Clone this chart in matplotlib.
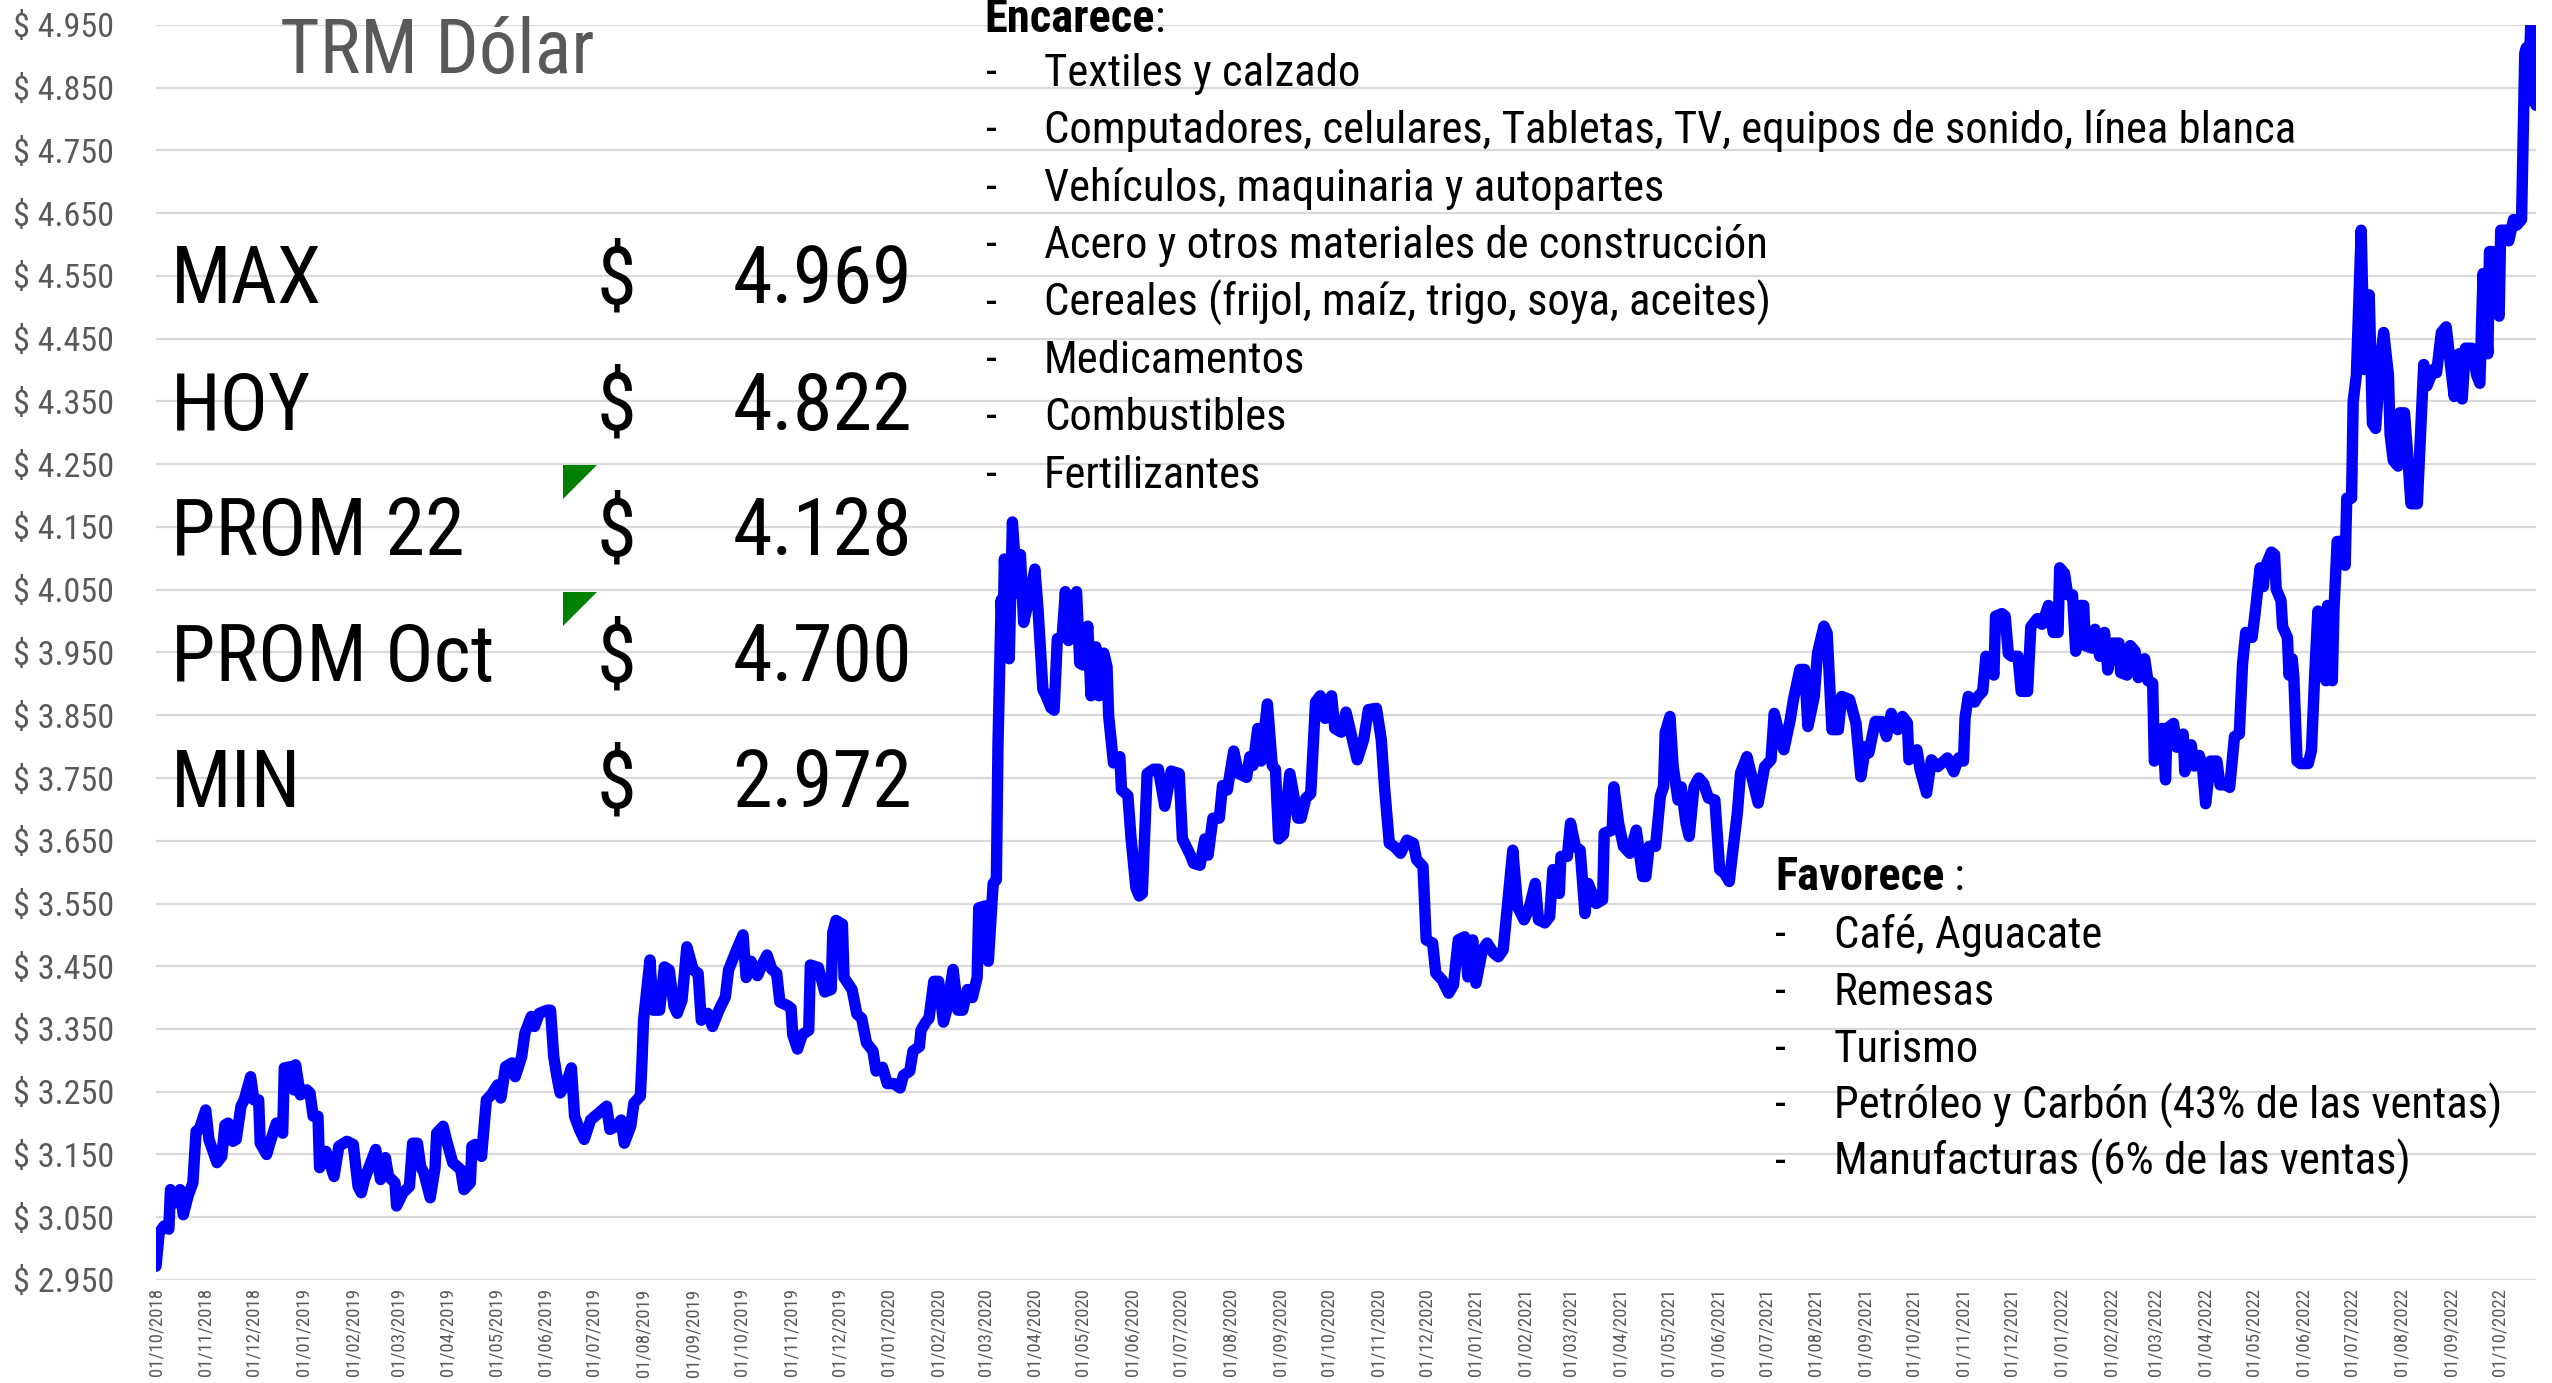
import matplotlib
matplotlib.use("Agg")
import matplotlib.pyplot as plt
from matplotlib import font_manager
from matplotlib.font_manager import FontProperties
from matplotlib.patches import Polygon
import pandas as pd

# ---------------- data ----------------
start_date = "2018-10-01"
day_offset = [0, 2, 5, 8, 9, 12, 15, 17, 20, 23, 25, 27, 31, 33, 38, 41, 43, 45, 48, 50, 53, 55, 59, 61, 64, 65, 69, 71, 75, 79,
              80, 84, 86, 87, 90, 94, 96, 98, 101, 102, 106, 111, 114, 119, 123, 126, 128, 130, 133, 137, 140, 143, 145, 149, 150, 154, 158, 160, 163, 165,
              167, 171, 174, 175, 179, 181, 185, 190, 192, 196, 197, 199, 203, 206, 209, 213, 215, 218, 222, 224, 228, 230, 234, 236, 239, 244, 246, 248, 250, 252,
              256, 259, 261, 264, 267, 271, 276, 281, 283, 287, 290, 292, 296, 298, 302, 303, 304, 308, 310, 314, 317, 320, 323, 325, 328, 331, 335, 338, 340, 344,
              347, 351, 355, 357, 362, 366, 368, 371, 375, 379, 381, 384, 387, 389, 394, 396, 397, 400, 403, 407, 408, 413, 417, 421, 422, 424, 428, 429, 434, 437,
              440, 443, 447, 449, 453, 456, 460, 464, 466, 470, 472, 476, 477, 480, 482, 485, 488, 491, 493, 497, 500, 503, 506, 509, 512, 513, 517, 519, 522, 524,
              525, 527, 528, 529, 532, 534, 537, 539, 541, 544, 548, 550, 553, 555, 558, 560, 562, 565, 567, 569, 571, 574, 576, 578, 581, 583, 586, 588, 591, 593,
              594, 597, 601, 602, 606, 608, 611, 613, 615, 618, 622, 625, 629, 633, 638, 640, 645, 647, 651, 654, 656, 659, 663, 665, 668, 672, 675, 680, 682, 684,
              687, 689, 693, 696, 698, 700, 703, 707, 712, 714, 717, 720, 723, 726, 729, 733, 735, 739, 742, 749, 753, 756, 761, 764, 766, 769, 772, 776, 780, 784,
              786, 790, 792, 796, 798, 802, 806, 809, 812, 816, 818, 821, 823, 827, 830, 834, 837, 840, 842, 846, 849, 853, 856, 860, 862, 866, 869, 871, 875, 876,
              880, 882, 885, 888, 891, 893, 898, 902, 903, 908, 909, 912, 915, 919, 923, 927, 929, 931, 935, 938, 940, 941, 944, 946, 949, 951, 954, 956, 959, 962,
              965, 968, 972, 975, 978, 981, 983, 986, 988, 992, 996, 999, 1003, 1007, 1009, 1012, 1015, 1019, 1021, 1025, 1028, 1030, 1034, 1036, 1040, 1042, 1045, 1049, 1051, 1056,
              1060, 1063, 1066, 1068, 1072, 1076, 1079, 1082, 1086, 1089, 1092, 1093, 1098, 1100, 1104, 1107, 1111, 1117, 1121, 1124, 1127, 1128, 1130, 1134, 1136, 1139, 1141, 1144, 1146, 1147,
              1151, 1153, 1155, 1157, 1161, 1163, 1167, 1169, 1173, 1176, 1180, 1183, 1186, 1187, 1190, 1192, 1195, 1197, 1200, 1202, 1203, 1207, 1209, 1212, 1215, 1217, 1220, 1224, 1225, 1229,
              1231, 1234, 1236, 1240, 1242, 1245, 1246, 1248, 1251, 1253, 1254, 1258, 1260, 1264, 1265, 1269, 1271, 1274, 1276, 1278, 1281, 1285, 1287, 1291, 1293, 1296, 1299, 1301, 1303, 1307,
              1309, 1312, 1314, 1315, 1319, 1321, 1322, 1325, 1326, 1329, 1330, 1332, 1333, 1335, 1337, 1342, 1344, 1346, 1348, 1350, 1353, 1354, 1357, 1358, 1360, 1364, 1365, 1366, 1369, 1370,
              1372, 1375, 1377, 1380, 1382, 1384, 1387, 1389, 1392, 1393, 1395, 1398, 1399, 1402, 1404, 1406, 1410, 1414, 1416, 1420, 1422, 1425, 1428, 1431, 1433, 1436, 1438, 1440, 1444, 1447,
              1449, 1451, 1454, 1455, 1457, 1459, 1461, 1462, 1465, 1467, 1470, 1472, 1475, 1477, 1478, 1479, 1481, 1483, 1484]
trm = [2972, 3025, 3036, 3031, 3094, 3073, 3094, 3054, 3084, 3105, 3187, 3190, 3221, 3174, 3137, 3147, 3197, 3200, 3171, 3174, 3227, 3237, 3274, 3237, 3237, 3168, 3150, 3168, 3200, 3184,
       3288, 3290, 3253, 3293, 3245, 3253, 3248, 3211, 3211, 3129, 3155, 3115, 3163, 3171, 3166, 3099, 3089, 3110, 3131, 3158, 3110, 3145, 3115, 3105, 3068, 3089, 3099, 3168, 3168, 3131,
       3121, 3081, 3129, 3184, 3195, 3174, 3137, 3126, 3094, 3105, 3163, 3166, 3147, 3237, 3245, 3261, 3240, 3290, 3296, 3274, 3306, 3343, 3370, 3354, 3375, 3380, 3380, 3306, 3274, 3248,
       3264, 3288, 3211, 3190, 3174, 3205, 3216, 3227, 3190, 3195, 3205, 3168, 3195, 3232, 3243, 3296, 3364, 3460, 3380, 3380, 3449, 3444, 3386, 3375, 3396, 3481, 3444, 3439, 3364, 3375,
       3354, 3380, 3401, 3444, 3476, 3500, 3432, 3458, 3435, 3458, 3468, 3445, 3439, 3393, 3387, 3383, 3341, 3318, 3341, 3348, 3452, 3448, 3409, 3413, 3504, 3523, 3517, 3432, 3413, 3374,
       3367, 3328, 3315, 3283, 3289, 3263, 3263, 3256, 3276, 3283, 3315, 3322, 3348, 3361, 3367, 3426, 3426, 3361, 3380, 3445, 3380, 3380, 3413, 3400, 3432, 3543, 3546, 3458, 3582, 3588,
       3803, 4034, 3953, 4099, 3940, 4158, 4044, 4106, 3998, 4031, 4083, 4018, 3891, 3881, 3862, 3858, 3972, 3975, 4047, 3969, 4018, 4047, 3933, 3930, 3992, 3881, 3959, 3881, 3949, 3927,
       3849, 3774, 3784, 3731, 3722, 3653, 3575, 3562, 3566, 3757, 3764, 3764, 3705, 3761, 3757, 3653, 3627, 3614, 3611, 3653, 3627, 3686, 3686, 3738, 3731, 3793, 3757, 3751, 3784, 3770,
       3829, 3777, 3868, 3770, 3764, 3653, 3660, 3757, 3686, 3686, 3718, 3725, 3871, 3881, 3845, 3881, 3829, 3823, 3855, 3779, 3811, 3859, 3861, 3811, 3736, 3646, 3641, 3630, 3651, 3646,
       3620, 3609, 3492, 3487, 3439, 3428, 3407, 3420, 3492, 3497, 3433, 3492, 3423, 3476, 3487, 3471, 3465, 3476, 3529, 3635, 3545, 3524, 3540, 3582, 3524, 3519, 3529, 3604, 3566, 3625,
       3625, 3678, 3641, 3635, 3534, 3582, 3550, 3556, 3662, 3667, 3736, 3678, 3641, 3630, 3667, 3593, 3593, 3641, 3641, 3721, 3736, 3822, 3848, 3768, 3715, 3736, 3678, 3657, 3736, 3750,
       3741, 3718, 3715, 3604, 3598, 3585, 3630, 3694, 3758, 3784, 3742, 3710, 3768, 3779, 3853, 3822, 3795, 3843, 3875, 3923, 3923, 3832, 3880, 3949, 3992, 3981, 3827, 3827, 3880, 3875,
       3837, 3752, 3800, 3790, 3840, 3840, 3816, 3853, 3827, 3848, 3838, 3779, 3795, 3763, 3726, 3779, 3768, 3782, 3760, 3782, 3777, 3846, 3880, 3871, 3880, 3888, 3944, 3940, 3914, 4008,
       4012, 4008, 3948, 3944, 3944, 3888, 3888, 3991, 4004, 3995, 4025, 3982, 3982, 4085, 4076, 4042, 4042, 3952, 4025, 4025, 3961, 3957, 3987, 3944, 3982, 3922, 3965, 3965, 3918, 3914,
       3961, 3952, 3910, 3940, 3905, 3901, 3777, 3782, 3829, 3747, 3829, 3837, 3799, 3820, 3760, 3803, 3769, 3786, 3769, 3709, 3777, 3777, 3739, 3739, 3735, 3816, 3820, 3931, 3982, 3974,
       4016, 4085, 4055, 4085, 4110, 4106, 4051, 4033, 3991, 3974, 3914, 3940, 3910, 3777, 3773, 3773, 3794, 3914, 4016, 3922, 3905, 4025, 3905, 4016, 4127, 4127, 4089, 4196, 4196, 4350,
       4392, 4623, 4401, 4520, 4315, 4307, 4418, 4460, 4392, 4298, 4256, 4247, 4332, 4332, 4264, 4187, 4187, 4409, 4375, 4401, 4396, 4460, 4469, 4401, 4358, 4426, 4354, 4435, 4435, 4392,
       4379, 4554, 4426, 4589, 4589, 4503, 4486, 4623, 4623, 4606, 4640, 4631, 4640, 4905, 4914, 4829, 4969, 4931, 4822]

stat_labels = ["MAX", "HOY", "PROM 22", "PROM Oct", "MIN"]
stat_values = ["4.969", "4.822", "4.128", "4.700", "2.972"]
encarece_items = ["Textiles y calzado",
                  "Computadores, celulares, Tabletas, TV, equipos de sonido, línea blanca",
                  "Vehículos, maquinaria y autopartes",
                  "Acero y otros materiales de construcción",
                  "Cereales (frijol, maíz, trigo, soya, aceites)",
                  "Medicamentos",
                  "Combustibles",
                  "Fertilizantes"]
favorece_items = ["Café, Aguacate",
                  "Remesas",
                  "Turismo",
                  "Petróleo y Carbón (43% de las ventas)",
                  "Manufacturas (6% de las ventas)"]
title_text = "TRM Dólar"
y_ticks = list(range(2950, 4951, 100))
y_tick_labels = ["$ {:.3f}".format(v / 1000) for v in y_ticks]
x_tick_dates = pd.date_range("2018-10-01", "2022-10-01", freq="MS")
x_tick_labels = [d.strftime("%d/%m/%Y") for d in x_tick_dates]

# ---------------- fonts: prefer a narrow/condensed sans (Arial Narrow look) ----------------
def _wnum(w):
    if isinstance(w, (int, float)):
        return int(w)
    return font_manager.weight_dict.get(str(w).lower(), 400)

def find_condensed(weights):
    entries = [f for f in font_manager.fontManager.ttflist if f.style == "normal"]
    for want in weights:
        for nm in ["Liberation Sans Narrow", "Arial Narrow"]:
            for f in entries:
                if f.name == nm and _wnum(f.weight) == want:
                    return f.fname
        for stretch in ["condensed", "semi-condensed"]:
            for nm in ["Noto Sans", "Roboto", "Open Sans", "Roboto Condensed", "Open Sans Condensed",
                       "Lato", "Inter", "Liberation Sans", "DejaVu Sans"]:
                for f in entries:
                    if f.name == nm and str(f.stretch) == stretch and _wnum(f.weight) == want:
                        return f.fname
    return None

reg_file = find_condensed([400, 500, 300])
bold_file = find_condensed([700, 600, 800])
PROP_REG = FontProperties(fname=reg_file) if reg_file else FontProperties(family="Liberation Sans")
PROP_BOLD = FontProperties(fname=bold_file) if bold_file else FontProperties(family="Liberation Sans", weight="bold")

W, H = 2552, 1383
fig = plt.figure(figsize=(W / 100, H / 100), dpi=100)
fig.patch.set_facecolor("white")
fig.canvas.draw()
rend = fig.canvas.get_renderer()

def fx(px):
    return px / W

def fy(py):
    return 1 - py / H

def sized(prop, size):
    p = prop.copy()
    p.set_size(size)
    return p

def fit(s, prop, target_px, base=40.0):
    t = fig.text(0, 0, s, fontproperties=sized(prop, base))
    w = t.get_window_extent(renderer=rend).width
    t.remove()
    return base * target_px / w

# sizes fitted to widths measured on the reference
sz_title = fit(title_text, PROP_REG, 314)
sz_ytick = fit("$ 4.950", PROP_REG, 101)
sz_xtick = min(fit("01/10/2018", PROP_REG, 88), 22)
sz_stat = fit("4.969", PROP_REG, 180)
sz_list = fit(encarece_items[1], PROP_REG, 1252)
sz_head = fit("Favorece", PROP_BOLD, 169)

ax_left, ax_right, ax_top, ax_bottom = 156, 2536, 25, 1280
ax = fig.add_axes([fx(ax_left), fy(ax_bottom), fx(ax_right - ax_left), (ax_bottom - ax_top) / H])

dates = pd.to_datetime(start_date) + pd.to_timedelta(day_offset, unit="D")
ax.plot(dates, trm, color="#0000FF", linewidth=8.2, solid_joinstyle="round", solid_capstyle="round", zorder=3)

ax.set_ylim(y_ticks[0], y_ticks[-1])
ax.set_xlim(dates[0], dates[-1])
ax.set_yticks(y_ticks)
ax.set_yticklabels(y_tick_labels, fontproperties=sized(PROP_REG, sz_ytick), color="#595959")
ax.set_xticks(x_tick_dates)
ax.set_xticklabels(x_tick_labels, fontproperties=sized(PROP_REG, sz_xtick), color="#595959",
                   rotation=90, va="top", ha="center")
ax.grid(axis="y", color="#d9d9d9", linewidth=1.6, zorder=0)
ax.grid(axis="x", visible=False)
ax.set_axisbelow(True)
for s in ax.spines.values():
    s.set_visible(False)
ax.tick_params(axis="y", length=0, pad=30)
ax.tick_params(axis="x", length=0, pad=6)

# title
fig.text(fx(280), fy(73), title_text, fontproperties=sized(PROP_REG, sz_title), color="#595959", ha="left", va="baseline")

# stats table
rows_y = [303, 430, 555, 681, 807]
for lab, val, yb in zip(stat_labels, stat_values, rows_y):
    fig.text(fx(171), fy(yb), lab, fontproperties=sized(PROP_REG, sz_stat), color="black", ha="left", va="baseline")
    fig.text(fx(597), fy(yb), "$", fontproperties=sized(PROP_REG, sz_stat), color="black", ha="left", va="baseline")
    fig.text(fx(912), fy(yb), val, fontproperties=sized(PROP_REG, sz_stat), color="black", ha="right", va="baseline")
for ytop in (465, 592):
    tri = Polygon([(fx(563), fy(ytop)), (fx(597), fy(ytop)), (fx(563), fy(ytop + 34))],
                  closed=True, transform=fig.transFigure, facecolor="#008000", edgecolor="none")
    fig.patches.append(tri)

# Encarece block
head_y = 32
t = fig.text(fx(984), fy(head_y), "Encarece", fontproperties=sized(PROP_BOLD, sz_head), color="black", ha="left", va="baseline")
bb = t.get_window_extent(renderer=rend)
fig.text(bb.x1 / W, fy(head_y), ":", fontproperties=sized(PROP_REG, sz_list), color="black", ha="left", va="baseline")
for i, item in enumerate(encarece_items):
    yb = 86 + 57.4 * i
    fig.text(fx(986), fy(yb), "-", fontproperties=sized(PROP_REG, sz_list), color="black", ha="left", va="baseline")
    fig.text(fx(1044), fy(yb), item, fontproperties=sized(PROP_REG, sz_list), color="black", ha="left", va="baseline")

# Favorece block
t2 = fig.text(fx(1775), fy(890), "Favorece", fontproperties=sized(PROP_BOLD, sz_head), color="black", ha="left", va="baseline")
bb2 = t2.get_window_extent(renderer=rend)
fig.text(bb2.x1 / W, fy(890), " :", fontproperties=sized(PROP_REG, sz_list), color="black", ha="left", va="baseline")
for i, item in enumerate(favorece_items):
    yb = 948 + 56.8 * i
    fig.text(fx(1775), fy(yb), "-", fontproperties=sized(PROP_REG, sz_list), color="black", ha="left", va="baseline")
    fig.text(fx(1834), fy(yb), item, fontproperties=sized(PROP_REG, sz_list), color="black", ha="left", va="baseline")

fig.savefig("out.png", dpi=100, facecolor="white")
